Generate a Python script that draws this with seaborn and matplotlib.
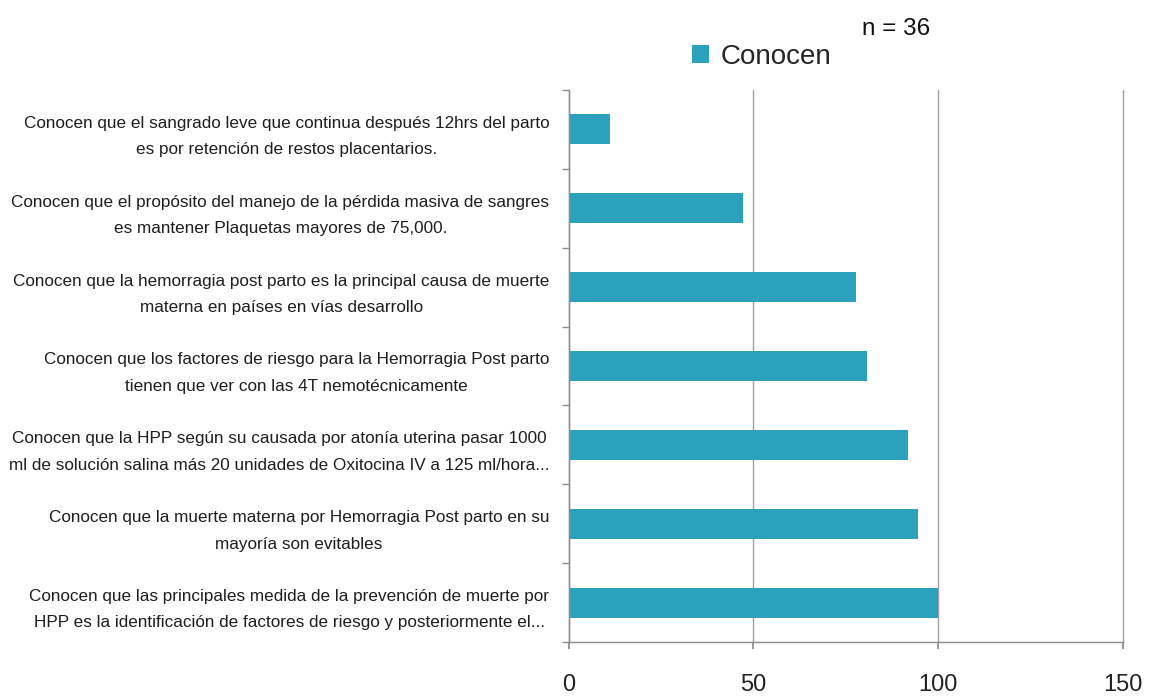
import matplotlib
matplotlib.use("Agg")
import matplotlib.pyplot as plt
import seaborn as sns
import pandas as pd
import numpy as np
from matplotlib.ticker import FixedLocator
from matplotlib.patches import Patch

categories = [
    "Conocen que el sangrado leve que continua después 12hrs del parto\nes por retención de restos placentarios.",
    "Conocen que el propósito del manejo de la pérdida masiva de sangres\nes mantener Plaquetas mayores de 75,000.",
    "Conocen que la hemorragia post parto es la principal causa de muerte\nmaterna en países en vías desarrollo",
    "Conocen que los factores de riesgo para la Hemorragia Post parto\ntienen que ver con las 4T nemotécnicamente",
    "Conocen que la HPP según su causada por atonía uterina pasar 1000\nml de solución salina más 20 unidades de Oxitocina IV a 125 ml/hora...",
    "Conocen que la muerte materna por Hemorragia Post parto en su\nmayoría son evitables",
    "Conocen que las principales medida de la prevención de muerte por\nHPP es la identificación de factores de riesgo y posteriormente el...",
]
values = [11.1, 47.2, 77.8, 80.6, 91.7, 94.4, 100.0]
series_name = "Conocen"
x_ticks = [0, 50, 100, 150]

sns.set_theme(style="white")
plt.rcParams['font.family'] = ['Liberation Sans', 'DejaVu Sans']

df = pd.DataFrame({"cat": categories, "val": values})
color = "#2BA1BE"

fig = plt.figure(figsize=(11.63, 6.96), dpi=100)
ax = fig.add_axes([0.489, 0.0776, 0.4766, 0.7931])
sns.barplot(data=df, y="cat", x="val", orient="h", color=color, width=0.38,
            saturation=1, edgecolor="none", ax=ax)

ax.set_xlim(0, 150)
ax.set_ylim(len(categories) - 0.5, -0.5)
ax.set_xticks(x_ticks)
ax.set_xticklabels([str(t) for t in x_ticks], fontsize=17, color="#222222")
ax.set_xlabel("")
ax.set_ylabel("")
ax.grid(axis="x", color="#A0A0A0", linewidth=1.0)
ax.grid(axis="y", visible=False)
for gl in ax.get_xgridlines():
    gl.set_clip_on(False)
ax.set_axisbelow(True)

for s in ["top", "right"]:
    ax.spines[s].set_visible(False)
for s in ["left", "bottom"]:
    ax.spines[s].set_color("#8C8C8C")
    ax.spines[s].set_linewidth(1.0)

ax.tick_params(axis="x", which="major", length=5, color="#8C8C8C", pad=18, bottom=True)
ax.tick_params(axis="y", which="major", length=0, pad=14)
ax.yaxis.set_minor_locator(FixedLocator(np.arange(-0.5, len(categories), 1.0)))
ax.tick_params(axis="y", which="minor", length=5, color="#8C8C8C", left=True)

for lab in ax.get_yticklabels():
    lab.set_fontsize(12.3)
    lab.set_multialignment("center")
    lab.set_linespacing(1.95)
    lab.set_color("#1E1E1E")

handle = Patch(facecolor=color, edgecolor="none")
fig.legend([handle], [series_name], loc="center left",
           bbox_to_anchor=(0.583, 0.918), frameon=False, fontsize=20,
           handlelength=0.6, handleheight=0.6, handletextpad=0.45, borderpad=0)
fig.text(0.741, 0.958, "n = 36", fontsize=17.5, ha="left", va="center", color="#111111")

fig.savefig("out.png", dpi=100)
